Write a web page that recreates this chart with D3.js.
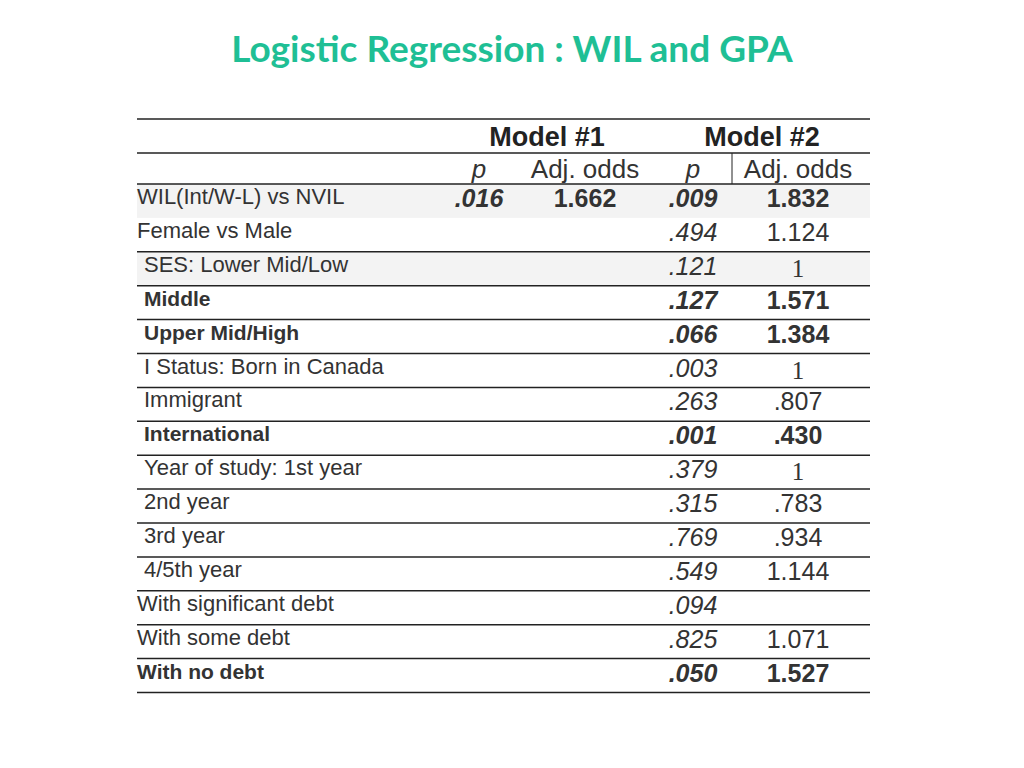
<!DOCTYPE html>
<html><head><meta charset="utf-8">
<script src="https://cdn.jsdelivr.net/npm/d3@7"></script>
<style>body{margin:0;background:#fff}</style>
</head><body>
<svg id="chart" width="1024" height="768"></svg>
<script>
const rowLabels = ["WIL(Int/W-L) vs NVIL","Female vs Male","SES: Lower Mid/Low","Middle","Upper Mid/High",
  "I Status: Born in Canada","Immigrant","International","Year of study: 1st year","2nd year","3rd year",
  "4/5th year","With significant debt","With some debt","With no debt"];
const indented = [0,0,1,1,1,1,1,1,1,1,1,1,0,0,0];
const boldRows = [0,0,0,1,1,0,0,1,0,0,0,0,0,0,1];
const p1 = [".016","","","","","","","","","","","","","",""];
const odds1 = ["1.662","","","","","","","","","","","","","",""];
const p2 = [".009",".494",".121",".127",".066",".003",".263",".001",".379",".315",".769",".549",".094",".825",".050"];
const odds2 = ["1.832","1.124","1","1.571","1.384","1",".807",".430","1",".783",".934","1.144","","1.071","1.527"];
const boldCells = [1,0,0,1,1,0,0,1,0,0,0,0,0,0,1];

const svg = d3.select("#chart");
const left = 137, right = 870, top0 = 184, rowH = 33.9;
const y = d3.scaleBand().domain(d3.range(rowLabels.length)).range([top0, top0 + rowH * rowLabels.length]);
const colX = {p1: 479, odds1: 585, p2: 693, odds2: 798};

svg.append("text").attr("x", 512).attr("y", 62).attr("text-anchor", "middle")
  .attr("font-family", "Lato, sans-serif").attr("font-weight", "bold")
  .attr("font-size", 37).attr("fill", "#1fbf95").text("Logistic Regression : WIL and GPA");

const font = "'Liberation Sans Narrow', 'Liberation Sans', Arial, sans-serif";
// shading
rowLabels.forEach((d, i) => {
  if (i === 0 || i === 2) svg.append("rect").attr("x", left).attr("width", right - left)
    .attr("y", y(i)).attr("height", y.bandwidth()).attr("fill", "#f3f3f3");
});

// header
svg.append("text").attr("x", 547).attr("y", 146).attr("text-anchor", "middle").attr("font-family", font)
  .attr("font-weight", "bold").attr("font-size", 27).attr("fill", "#222").text("Model #1");
svg.append("text").attr("x", 762).attr("y", 146).attr("text-anchor", "middle").attr("font-family", font)
  .attr("font-weight", "bold").attr("font-size", 27).attr("fill", "#222").text("Model #2");
[["p1","p",true],["odds1","Adj. odds",false],["p2","p",true],["odds2","Adj. odds",false]].forEach(([k, t, it]) => {
  svg.append("text").attr("x", colX[k]).attr("y", 178).attr("text-anchor", "middle").attr("font-family", font)
    .attr("font-style", it ? "italic" : null).attr("font-size", 26).attr("fill", "#333").text(t);
});
svg.append("line").attr("x1", 732).attr("x2", 732).attr("y1", 153).attr("y2", top0).attr("stroke", "#222");

// lines
[119, 153, top0].forEach(v => svg.append("line").attr("x1", left).attr("x2", right)
  .attr("y1", v).attr("y2", v).attr("stroke", "#222").attr("stroke-width", 1.5));
rowLabels.forEach((d, i) => {
  if (i === 0) return;
  svg.append("line").attr("x1", left).attr("x2", right).attr("y1", y(i) + y.bandwidth())
    .attr("y2", y(i) + y.bandwidth()).attr("stroke", "#222").attr("stroke-width", 1.5);
});

// rows
rowLabels.forEach((d, i) => {
  const base = y(i) + 23;
  svg.append("text").attr("x", left + (indented[i] ? 7 : 0)).attr("y", base - 3)
    .attr("font-family", font).attr("font-size", boldRows[i] ? 21 : 22)
    .attr("font-weight", boldRows[i] ? "bold" : null).attr("fill", "#333").text(d);
  const cells = [["p1", p1[i], true, i === 0], ["odds1", odds1[i], false, i === 0],
                 ["p2", p2[i], true, boldCells[i]], ["odds2", odds2[i], false, boldCells[i]]];
  cells.forEach(([k, t, it, b]) => {
    if (!t) return;
    const serif = t === "1";
    svg.append("text").attr("x", colX[k]).attr("y", base + (serif ? 2 : 0)).attr("text-anchor", "middle")
      .attr("font-family", serif ? "Liberation Serif, serif" : font)
      .attr("font-style", it ? "italic" : null).attr("font-weight", b ? "bold" : null)
      .attr("font-size", 25).attr("fill", "#333").text(t);
  });
});
</script>
</body></html>
